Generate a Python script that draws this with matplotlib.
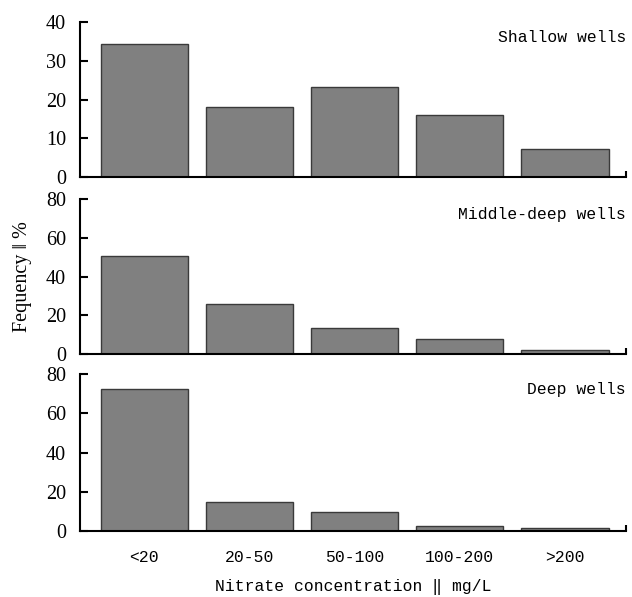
import numpy as np
import matplotlib.pyplot as plt
from matplotlib.ticker import FixedLocator

categories = ["<20", "20-50", "50-100", "100-200", ">200"]
shallow = [34.3, 18.1, 23.2, 16.1, 7.2]
middle_deep = [50.4, 26.1, 13.4, 7.7, 2.4]
deep = [72.3, 14.8, 9.8, 2.3, 1.3]

panels = [
    ("Shallow wells", shallow, 40, [0, 10, 20, 30, 40]),
    ("Middle-deep wells", middle_deep, 80, [0, 20, 40, 60, 80]),
    ("Deep wells", deep, 80, [0, 20, 40, 60, 80]),
]

mono = ["Liberation Mono", "DejaVu Sans Mono"]
serif = ["Liberation Serif", "DejaVu Serif"]

fig = plt.figure(figsize=(6.32, 5.97), dpi=100)
# axes rectangles in figure fraction (left, bottom, width, height)
boxes = [
    (0.1266, 0.7035, 0.864, 0.2596),
    (0.1266, 0.4065, 0.864, 0.2601),
    (0.1266, 0.1110, 0.864, 0.2620),
]

x = np.arange(len(categories))
for i, ((name, vals, ymax, yticks), box) in enumerate(zip(panels, boxes)):
    ax = fig.add_axes(box)
    ax.bar(x, vals, width=0.83, color="#808080", edgecolor="#3a3a3a", linewidth=1.0)
    ax.set_ylim(0, ymax)
    ax.set_xlim(-0.61, 4.58)
    ax.spines["top"].set_visible(False)
    ax.spines["right"].set_visible(False)
    ax.spines["left"].set_linewidth(1.5)
    ax.spines["bottom"].set_linewidth(1.5)
    ax.set_yticks(yticks)
    ax.set_yticklabels([str(t) for t in yticks], family=serif, fontsize=14.5)
    ax.tick_params(axis="y", direction="in", length=6, width=1.5, pad=10)
    ax.set_xticks(x)
    ax.xaxis.set_minor_locator(FixedLocator([4.58]))
    ax.tick_params(axis="x", which="minor", direction="in", length=4, width=1.5)
    if i == 2:
        ax.set_xticklabels(categories, family=mono, fontsize=11.8)
        ax.tick_params(axis="x", which="major", length=0, pad=14)
        ax.set_xlabel("Nitrate concentration \u2016 mg/L", family=mono, fontsize=11.8,
                      labelpad=10)
    else:
        ax.set_xticklabels([])
        ax.tick_params(axis="x", which="major", length=0)
    ax.text(1.0, 0.9, name, transform=ax.transAxes, ha="right", va="center",
            family=mono, fontsize=11.8)
    if i == 1:
        ax.set_ylabel("Fequency \u2016 %", family=serif, fontsize=14.5, labelpad=10)

plt.savefig("out.png", dpi=100)
